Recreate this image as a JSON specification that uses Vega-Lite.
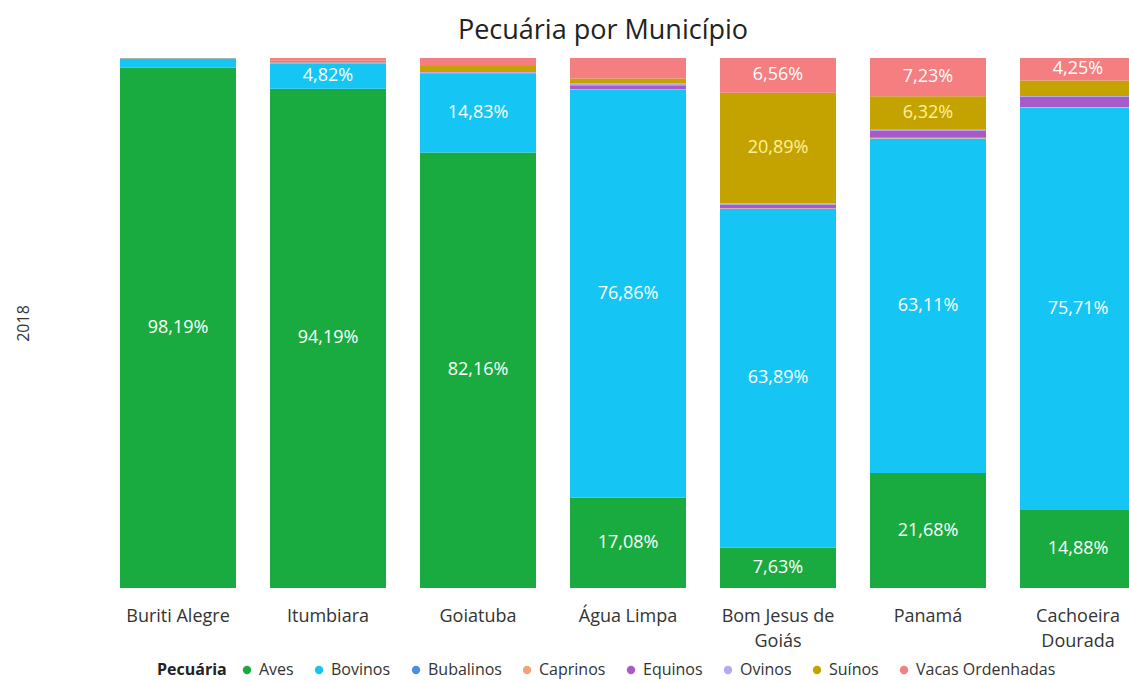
{
  "$schema": "https://vega.github.io/schema/vega-lite/v6.json",
  "autosize": {"type": "none"},
  "padding": {"left": 103, "top": 58, "right": 0, "bottom": 94},
  "width": 1050,
  "height": 530,
  "background": "white",
  "config": {
    "locale": {"number": {"decimal": ",", "thousands": ".", "grouping": [3], "currency": ["R$", ""]}},
    "view": {"stroke": null},
    "font": "Open Sans"
  },
  "title": {
    "text": "Pecuária por Município",
    "fontSize": 27,
    "fontWeight": "normal",
    "color": "#222222",
    "dx": -25,
    "offset": 4
  },
  "data": {
    "values": [
      {"m": "Buriti Alegre", "p": "Aves", "v": 0.9819},
      {"m": "Buriti Alegre", "p": "Bovinos", "v": 0.0171},
      {"m": "Buriti Alegre", "p": "Bubalinos", "v": 0.0001},
      {"m": "Buriti Alegre", "p": "Caprinos", "v": 0.0001},
      {"m": "Buriti Alegre", "p": "Equinos", "v": 0.0003},
      {"m": "Buriti Alegre", "p": "Ovinos", "v": 0.0001},
      {"m": "Buriti Alegre", "p": "Suínos", "v": 0.0002},
      {"m": "Buriti Alegre", "p": "Vacas Ordenhadas", "v": 0.0002},
      {"m": "Itumbiara", "p": "Aves", "v": 0.9419},
      {"m": "Itumbiara", "p": "Bovinos", "v": 0.0482},
      {"m": "Itumbiara", "p": "Bubalinos", "v": 0.0002},
      {"m": "Itumbiara", "p": "Caprinos", "v": 0.0003},
      {"m": "Itumbiara", "p": "Equinos", "v": 0.0010},
      {"m": "Itumbiara", "p": "Ovinos", "v": 0.0004},
      {"m": "Itumbiara", "p": "Suínos", "v": 0.0030},
      {"m": "Itumbiara", "p": "Vacas Ordenhadas", "v": 0.0050},
      {"m": "Goiatuba", "p": "Aves", "v": 0.8216},
      {"m": "Goiatuba", "p": "Bovinos", "v": 0.1483},
      {"m": "Goiatuba", "p": "Bubalinos", "v": 0.0003},
      {"m": "Goiatuba", "p": "Caprinos", "v": 0.0005},
      {"m": "Goiatuba", "p": "Equinos", "v": 0.0020},
      {"m": "Goiatuba", "p": "Ovinos", "v": 0.0008},
      {"m": "Goiatuba", "p": "Suínos", "v": 0.0115},
      {"m": "Goiatuba", "p": "Vacas Ordenhadas", "v": 0.0150},
      {"m": "Água Limpa", "p": "Aves", "v": 0.1708},
      {"m": "Água Limpa", "p": "Bovinos", "v": 0.7686},
      {"m": "Água Limpa", "p": "Bubalinos", "v": 0.0008},
      {"m": "Água Limpa", "p": "Caprinos", "v": 0.0010},
      {"m": "Água Limpa", "p": "Equinos", "v": 0.0075},
      {"m": "Água Limpa", "p": "Ovinos", "v": 0.0030},
      {"m": "Água Limpa", "p": "Suínos", "v": 0.0098},
      {"m": "Água Limpa", "p": "Vacas Ordenhadas", "v": 0.0385},
      {"m": "Bom Jesus de Goiás", "p": "Aves", "v": 0.0763},
      {"m": "Bom Jesus de Goiás", "p": "Bovinos", "v": 0.6389},
      {"m": "Bom Jesus de Goiás", "p": "Bubalinos", "v": 0.0005},
      {"m": "Bom Jesus de Goiás", "p": "Caprinos", "v": 0.0008},
      {"m": "Bom Jesus de Goiás", "p": "Equinos", "v": 0.0060},
      {"m": "Bom Jesus de Goiás", "p": "Ovinos", "v": 0.0030},
      {"m": "Bom Jesus de Goiás", "p": "Suínos", "v": 0.2089},
      {"m": "Bom Jesus de Goiás", "p": "Vacas Ordenhadas", "v": 0.0656},
      {"m": "Panamá", "p": "Aves", "v": 0.2168},
      {"m": "Panamá", "p": "Bovinos", "v": 0.6311},
      {"m": "Panamá", "p": "Bubalinos", "v": 0.0004},
      {"m": "Panamá", "p": "Caprinos", "v": 0.0012},
      {"m": "Panamá", "p": "Equinos", "v": 0.0130},
      {"m": "Panamá", "p": "Ovinos", "v": 0.0020},
      {"m": "Panamá", "p": "Suínos", "v": 0.0632},
      {"m": "Panamá", "p": "Vacas Ordenhadas", "v": 0.0723},
      {"m": "Cachoeira Dourada", "p": "Aves", "v": 0.1488},
      {"m": "Cachoeira Dourada", "p": "Bovinos", "v": 0.7571},
      {"m": "Cachoeira Dourada", "p": "Bubalinos", "v": 0.0004},
      {"m": "Cachoeira Dourada", "p": "Caprinos", "v": 0.0012},
      {"m": "Cachoeira Dourada", "p": "Equinos", "v": 0.0190},
      {"m": "Cachoeira Dourada", "p": "Ovinos", "v": 0.0020},
      {"m": "Cachoeira Dourada", "p": "Suínos", "v": 0.0290},
      {"m": "Cachoeira Dourada", "p": "Vacas Ordenhadas", "v": 0.0425}
    ]
  },
  "encoding": {
    "x": {
      "field": "m",
      "type": "nominal",
      "sort": ["Buriti Alegre", "Itumbiara", "Goiatuba", "Água Limpa", "Bom Jesus de Goiás", "Panamá", "Cachoeira Dourada"],
      "scale": {"paddingInner": 0.2267, "paddingOuter": 0.1133},
      "axis": {
        "title": null,
        "labelAngle": 0,
        "domain": false,
        "ticks": false,
        "labelPadding": 19,
        "labelFontSize": 18,
        "labelColor": "#333333",
        "labelLimit": 300,
        "labelLineHeight": 25,
        "labelExpr": "datum.value == 'Bom Jesus de Goiás' ? ['Bom Jesus de', 'Goiás'] : datum.value == 'Cachoeira Dourada' ? ['Cachoeira', 'Dourada'] : datum.value"
      }
    },
    "y": {
      "field": "v",
      "type": "quantitative",
      "stack": "normalize",
      "axis": {
        "title": "2018",
        "titleFontSize": 16,
        "titleFontWeight": "normal",
        "titleColor": "#333333",
        "titlePadding": 72,
        "labels": false,
        "ticks": false,
        "domain": false,
        "grid": false
      }
    },
    "order": {"field": "p", "type": "nominal", "sort": "ascending"}
  },
  "layer": [
    {
      "mark": {"type": "bar"},
      "encoding": {
        "color": {
          "field": "p",
          "type": "nominal",
          "scale": {
            "domain": ["Aves", "Bovinos", "Bubalinos", "Caprinos", "Equinos", "Ovinos", "Suínos", "Vacas Ordenhadas"],
            "range": ["#1AAB40", "#15C6F4", "#4A8FE0", "#F4A278", "#A75BC9", "#B6A8F0", "#C4A300", "#F47E80"]
          },
          "legend": {
            "title": "Pecuária",
            "orient": "none",
            "direction": "horizontal",
            "legendX": 54,
            "legendY": 604,
            "titleOrient": "left",
            "titleFontSize": 16,
            "titleFontWeight": "bold",
            "titleColor": "#222222",
            "titlePadding": 12,
            "labelFontSize": 16,
            "labelColor": "#333333",
            "symbolType": "circle",
            "symbolSize": 70,
            "symbolStrokeWidth": 0,
            "columnPadding": 17,
            "labelOffset": 4,
            "labelLimit": 300
          }
        }
      }
    },
    {
      "mark": {"type": "text", "fontSize": 18, "baseline": "middle", "align": "center"},
      "encoding": {
        "y": {"field": "v", "type": "quantitative", "stack": "normalize", "bandPosition": 0.5},
        "detail": {"field": "p", "type": "nominal"},
        "text": {
          "condition": {"test": "datum.v < 0.04", "value": ""},
          "field": "v",
          "type": "quantitative",
          "format": ".2%"
        },
        "color": {
          "condition": {"test": "datum.p === 'Suínos'", "value": "#FFF29A"},
          "value": "white"
        }
      }
    }
  ]
}
